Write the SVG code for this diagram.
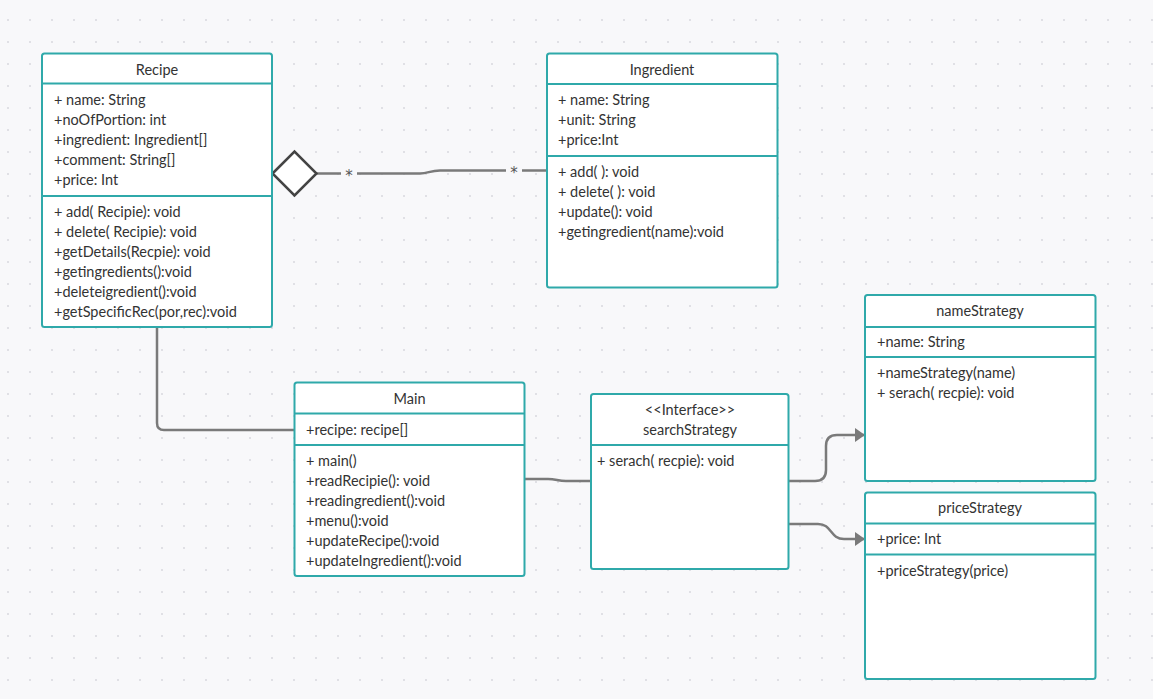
<svg xmlns="http://www.w3.org/2000/svg" width="1153" height="699" viewBox="0 0 1153 699">
  <style>
    .box { fill: #ffffff; stroke: #2fa9aa; stroke-width: 2; }
    .sep { stroke: #2fa9aa; stroke-width: 2; }
    .t { font-family: Lato, "Open Sans", "Liberation Sans", sans-serif; font-size: 14.5px; fill: #333333; }
    .h { text-anchor: middle; }
    .mult { font-family: "DejaVu Sans", "Liberation Sans", sans-serif; font-size: 15px; fill: #555555; text-anchor: middle; }
    .conn { fill: none; stroke: #7a7a7a; stroke-width: 2.5; }
  </style>
  <defs>
    <pattern id="dots" width="22" height="22" patternUnits="userSpaceOnUse">
      <circle cx="8" cy="20" r="1" fill="#d9d9de"/>
    </pattern>
    <marker id="arrow" viewBox="0 0 10 14" refX="10" refY="7" markerWidth="10" markerHeight="14" markerUnits="userSpaceOnUse" orient="auto">
      <path d="M0,0 L10,7 L0,14 Z" fill="#7a7a7a"/>
    </marker>
  </defs>

  <!-- canvas -->
  <rect width="1153" height="699" fill="#f8f8fa"/>
  <rect width="1153" height="699" fill="url(#dots)"/>

  <!-- connectors -->
  <g id="connectors">
    <!-- Recipe to Main -->
    <path class="conn" d="M157,327 L157,423 Q157,430 164,430 L294,430"/>
    <!-- Recipe aggregation of Ingredient -->
    <path class="conn" d="M316,173.5 L420,173.5 C428,173.5 430,170.5 440,170.5 L547,170.5"/>
    <rect x="341" y="164" width="16" height="18" fill="#f8f8fa"/>
    <text class="mult" x="349" y="181">*</text>
    <rect x="506" y="161" width="16" height="18" fill="#f8f8fa"/>
    <text class="mult" x="514" y="178">*</text>
    <path d="M272.5,173.5 L294.5,151.5 L316.5,173.5 L294.5,195.5 Z" fill="#ffffff" stroke="#444444" stroke-width="2.5" stroke-linejoin="miter"/>
    <!-- Main to searchStrategy -->
    <path class="conn" d="M524,479 L548,479 C556,479 558,481 566,481 L591,481"/>
    <!-- searchStrategy to nameStrategy -->
    <path class="conn" marker-end="url(#arrow)" d="M788,481 L815,481 Q826,481 826,470 L826,446 Q826,435 837,435 L865,435"/>
    <!-- searchStrategy to priceStrategy -->
    <path class="conn" marker-end="url(#arrow)" d="M788,524 L818,524 C832,524 830,539 844,539 L865,539"/>
  </g>

  <!-- Recipe -->
  <g id="recipe">
    <rect class="box" x="42" y="53.5" width="230" height="273.5" rx="2.5"/>
    <line class="sep" x1="42" y1="83.5" x2="272" y2="83.5"/>
    <line class="sep" x1="42" y1="196" x2="272" y2="196"/>
    <text class="t h" x="157" y="75">Recipe</text>
    <text class="t" x="54" y="105">+ name: String</text>
    <text class="t" x="54" y="125">+noOfPortion: int</text>
    <text class="t" x="54" y="145">+ingredient: Ingredient[]</text>
    <text class="t" x="54" y="165">+comment: String[]</text>
    <text class="t" x="54" y="185">+price: Int</text>
    <text class="t" x="54" y="217">+ add( Recipie): void</text>
    <text class="t" x="54" y="237">+ delete( Recipie): void</text>
    <text class="t" x="54" y="257">+getDetails(Recpie): void</text>
    <text class="t" x="54" y="277">+getingredients():void</text>
    <text class="t" x="54" y="297">+deleteigredient():void</text>
    <text class="t" x="54" y="317">+getSpecificRec(por,rec):void</text>
  </g>

  <!-- Ingredient -->
  <g id="ingredient">
    <rect class="box" x="547" y="53.5" width="230.5" height="234" rx="2.5"/>
    <line class="sep" x1="547" y1="84" x2="777.5" y2="84"/>
    <line class="sep" x1="547" y1="156" x2="777.5" y2="156"/>
    <text class="t h" x="662" y="75">Ingredient</text>
    <text class="t" x="558" y="105">+ name: String</text>
    <text class="t" x="558" y="125">+unit: String</text>
    <text class="t" x="558" y="145">+price:Int</text>
    <text class="t" x="558" y="177">+ add( ): void</text>
    <text class="t" x="558" y="197">+ delete( ): void</text>
    <text class="t" x="558" y="217">+update(): void</text>
    <text class="t" x="558" y="237">+getingredient(name):void</text>
  </g>

  <!-- Main -->
  <g id="main">
    <rect class="box" x="294.5" y="382.5" width="230" height="193.5" rx="2.5"/>
    <line class="sep" x1="294.5" y1="413.5" x2="524.5" y2="413.5"/>
    <line class="sep" x1="294.5" y1="445" x2="524.5" y2="445"/>
    <text class="t h" x="409.5" y="404">Main</text>
    <text class="t" x="306" y="435">+recipe: recipe[]</text>
    <text class="t" x="306" y="466">+ main()</text>
    <text class="t" x="306" y="486">+readRecipie(): void</text>
    <text class="t" x="306" y="506">+readingredient():void</text>
    <text class="t" x="306" y="526">+menu():void</text>
    <text class="t" x="306" y="546">+updateRecipe():void</text>
    <text class="t" x="306" y="566">+updateIngredient():void</text>
  </g>

  <!-- searchStrategy interface -->
  <g id="searchStrategy">
    <rect class="box" x="591" y="394" width="197.5" height="175" rx="2.5"/>
    <line class="sep" x1="591" y1="445" x2="788.5" y2="445"/>
    <text class="t h" x="690" y="415">&lt;&lt;Interface&gt;&gt;</text>
    <text class="t h" x="690" y="435">searchStrategy</text>
    <text class="t" x="597" y="466">+ serach( recpie): void</text>
  </g>

  <!-- nameStrategy -->
  <g id="nameStrategy">
    <rect class="box" x="865" y="295" width="230.5" height="186" rx="2.5"/>
    <line class="sep" x1="865" y1="327" x2="1095.5" y2="327"/>
    <line class="sep" x1="865" y1="357" x2="1095.5" y2="357"/>
    <text class="t h" x="980" y="316">nameStrategy</text>
    <text class="t" x="877" y="347">+name: String</text>
    <text class="t" x="877" y="378">+nameStrategy(name)</text>
    <text class="t" x="877" y="398">+ serach( recpie): void</text>
  </g>

  <!-- priceStrategy -->
  <g id="priceStrategy">
    <rect class="box" x="865" y="492.5" width="230.5" height="186.5" rx="2.5"/>
    <line class="sep" x1="865" y1="523.5" x2="1095.5" y2="523.5"/>
    <line class="sep" x1="865" y1="554.5" x2="1095.5" y2="554.5"/>
    <text class="t h" x="980" y="513">priceStrategy</text>
    <text class="t" x="877" y="544">+price: Int</text>
    <text class="t" x="877" y="576">+priceStrategy(price)</text>
  </g>
</svg>
